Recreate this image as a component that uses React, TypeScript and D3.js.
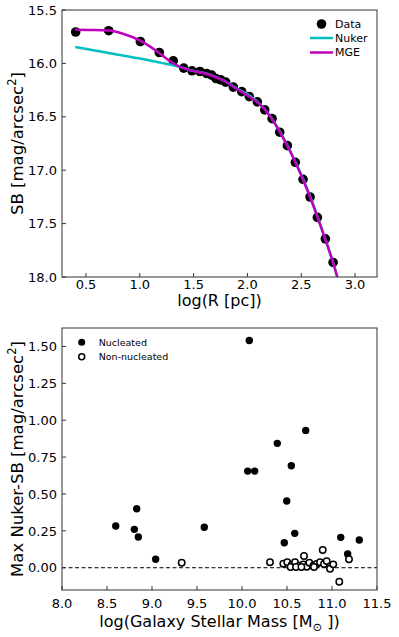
import React, { useEffect, useRef } from 'react';
import * as d3 from 'd3';

// top panel: surface brightness profile
const dataLogR = [0.404, 0.711, 1.005, 1.181, 1.311, 1.408, 1.485, 1.559, 1.622, 1.668, 1.708, 1.752, 1.798, 1.869, 1.947, 2.018, 2.092, 2.161, 2.229, 2.3, 2.371, 2.445, 2.517, 2.582, 2.65, 2.724, 2.796];
const dataSB = [15.706, 15.694, 15.795, 15.898, 15.976, 16.044, 16.069, 16.076, 16.095, 16.11, 16.142, 16.154, 16.175, 16.222, 16.264, 16.311, 16.36, 16.435, 16.517, 16.644, 16.77, 16.926, 17.085, 17.251, 17.442, 17.643, 17.864];

const nukerLogR = [0.4, 0.7, 1.0, 1.2, 1.4, 1.48, 1.6, 1.7, 1.8, 1.9, 2.0, 2.1, 2.2, 2.3, 2.4, 2.5, 2.6, 2.7, 2.8, 2.836];
const nukerSB = [15.847, 15.9, 15.955, 15.995, 16.04, 16.066, 16.09, 16.125, 16.17, 16.235, 16.29, 16.365, 16.475, 16.635, 16.825, 17.04, 17.29, 17.575, 17.875, 18.0];

const mgeLogR = [0.4, 0.55, 0.71, 0.85, 1.0, 1.1, 1.18, 1.28, 1.37, 1.48, 1.6, 1.7, 1.8, 1.9, 2.0, 2.1, 2.2, 2.3, 2.4, 2.5, 2.6, 2.7, 2.8, 2.835];
const mgeSB = [15.685, 15.687, 15.693, 15.725, 15.785, 15.845, 15.903, 15.98, 16.03, 16.068, 16.092, 16.128, 16.172, 16.24, 16.3, 16.37, 16.48, 16.64, 16.83, 17.05, 17.3, 17.58, 17.88, 18.0];

const topXTicks = [0.5, 1.0, 1.5, 2.0, 2.5, 3.0];
const topYTicks = [15.5, 16.0, 16.5, 17.0, 17.5, 18.0];

// bottom panel: max nuker-SB vs stellar mass
const nucMass = [10.081, 10.708, 10.392, 10.548, 10.063, 10.141, 8.597, 8.83, 8.804, 8.848, 9.041, 9.581, 10.497, 10.586, 10.47, 11.097, 11.303, 11.174];
const nucSB = [1.54, 0.931, 0.843, 0.691, 0.655, 0.655, 0.283, 0.4, 0.26, 0.208, 0.057, 0.274, 0.452, 0.233, 0.169, 0.206, 0.188, 0.093];

const nonMass = [9.33, 10.311, 10.459, 10.503, 10.552, 10.589, 10.637, 10.681, 10.689, 10.719, 10.748, 10.792, 10.83, 10.867, 10.897, 10.911, 10.941, 10.978, 11.014, 11.081, 11.189, 10.54, 10.6, 10.66, 10.8];
const nonSB = [0.034, 0.037, 0.027, 0.037, 0.018, 0.037, 0.014, 0.023, 0.079, 0.007, 0.034, 0.014, 0.025, 0.037, 0.12, 0.025, 0.045, -0.007, 0.023, -0.095, 0.057, 0.005, 0.005, 0.005, 0.005];

const botXTicks = [8.0, 8.5, 9.0, 9.5, 10.0, 10.5, 11.0, 11.5];
const botYTicks = [0.0, 0.25, 0.5, 0.75, 1.0, 1.25, 1.5];

const FONT = '"DejaVu Sans", sans-serif';
const AXIS = '#333';

const frame = (svg, x0, x1, y0, y1) => {
  svg
    .append('rect')
    .attr('x', x0)
    .attr('y', y0)
    .attr('width', x1 - x0)
    .attr('height', y1 - y0)
    .attr('fill', 'none')
    .attr('stroke', AXIS)
    .attr('stroke-width', 1);
};

const xTicks = (svg, x, ticks, y1, fmt, labelY) => {
  ticks.forEach((t) => {
    svg.append('line').attr('x1', x(t)).attr('x2', x(t)).attr('y1', y1).attr('y2', y1 - 4).attr('stroke', AXIS);
    svg
      .append('text')
      .attr('x', x(t))
      .attr('y', labelY)
      .attr('text-anchor', 'middle')
      .style('font-family', FONT)
      .style('font-size', '13px')
      .text(fmt(t));
  });
};

const yTicks = (svg, y, ticks, x0, fmt) => {
  ticks.forEach((t) => {
    svg.append('line').attr('x1', x0).attr('x2', x0 + 4).attr('y1', y(t)).attr('y2', y(t)).attr('stroke', AXIS);
    svg
      .append('text')
      .attr('x', x0 - 5)
      .attr('y', y(t))
      .attr('dy', '0.36em')
      .attr('text-anchor', 'end')
      .style('font-family', FONT)
      .style('font-size', '13px')
      .text(fmt(t));
  });
};

const yLabel = (svg, x, y, before, after) => {
  const t = svg
    .append('text')
    .attr('transform', 'translate(' + [x, y] + ')rotate(-90)')
    .attr('text-anchor', 'middle')
    .style('font-family', FONT)
    .style('font-size', '16.5px');
  t.append('tspan').text(before);
  t.append('tspan').attr('dy', -7).style('font-size', '11.5px').text('2');
  t.append('tspan').attr('dy', 7).text(after);
};

const App = () => {
  const ref = useRef(null);

  useEffect(() => {
    if (!ref.current) return;
    const width = 399,
      height = 637;
    d3.select(ref.current).selectAll('*').remove();
    const svg = d3
      .select(ref.current)
      .append('svg')
      .attr('width', width)
      .attr('height', height)
      .style('position', 'absolute')
      .style('left', 0)
      .style('top', 0);

    // ---------- top panel ----------
    const L = 62,
      R = 377;
    const tT = 10,
      tB = 277;
    const x1 = d3.scaleLinear().domain([0.277, 3.204]).range([L, R]);
    const y1 = d3.scaleLinear().domain([15.5, 18.0]).range([tT, tB]);

    svg
      .append('clipPath')
      .attr('id', 'clipTop')
      .append('rect')
      .attr('x', L)
      .attr('y', tT)
      .attr('width', R - L)
      .attr('height', tB - tT);

    const top = svg.append('g').attr('clip-path', 'url(#clipTop)');

    top
      .selectAll('circle.data')
      .data(dataLogR)
      .enter()
      .append('circle')
      .attr('cx', (d) => x1(d))
      .attr('cy', (d, i) => y1(dataSB[i]))
      .attr('r', 4.8)
      .attr('fill', 'black');

    const lineTop = d3
      .line()
      .x((d) => x1(d[0]))
      .y((d) => y1(d[1]))
      .curve(d3.curveMonotoneX);

    top
      .append('path')
      .attr('d', lineTop(nukerLogR.map((v, i) => [v, nukerSB[i]])))
      .attr('fill', 'none')
      .attr('stroke', '#00bfbf')
      .attr('stroke-width', 2.5);
    top
      .append('path')
      .attr('d', lineTop(mgeLogR.map((v, i) => [v, mgeSB[i]])))
      .attr('fill', 'none')
      .attr('stroke', '#bf00bf')
      .attr('stroke-width', 2.5);

    frame(svg, L, R, tT, tB);
    xTicks(svg, x1, topXTicks, tB, d3.format('.1f'), 289);
    yTicks(svg, y1, topYTicks, L, d3.format('.1f'));

    svg
      .append('text')
      .attr('x', (L + R) / 2)
      .attr('y', 306)
      .attr('text-anchor', 'middle')
      .style('font-family', FONT)
      .style('font-size', '16px')
      .text('log(R [pc])');
    yLabel(svg, 23, (tT + tB) / 2, 'SB [mag/arcsec', ']');

    // legend top
    svg.append('circle').attr('cx', 321.5).attr('cy', 24).attr('r', 4.8).attr('fill', 'black');
    svg.append('line').attr('x1', 310).attr('x2', 333).attr('y1', 38).attr('y2', 38).attr('stroke', '#00bfbf').attr('stroke-width', 2.5);
    svg.append('line').attr('x1', 310).attr('x2', 333).attr('y1', 52.5).attr('y2', 52.5).attr('stroke', '#bf00bf').attr('stroke-width', 2.5);
    [
      ['Data', 24],
      ['Nuker', 38],
      ['MGE', 52.5],
    ].forEach(([s, yy]) => {
      svg
        .append('text')
        .attr('x', 335)
        .attr('y', yy)
        .attr('dy', '0.36em')
        .style('font-family', FONT)
        .style('font-size', '11px')
        .text(s);
    });

    // ---------- bottom panel ----------
    const bT = 328,
      bB = 590;
    const x2 = d3.scaleLinear().domain([8.0, 11.5]).range([L, R]);
    const y2 = d3.scaleLinear().domain([-0.151, 1.625]).range([bB, bT]);

    svg
      .append('line')
      .attr('x1', L)
      .attr('x2', R)
      .attr('y1', y2(0))
      .attr('y2', y2(0))
      .attr('stroke', 'black')
      .attr('stroke-width', 1)
      .attr('stroke-dasharray', '4,2.5');

    svg
      .selectAll('circle.nuc')
      .data(nucMass)
      .enter()
      .append('circle')
      .attr('cx', (d) => x2(d))
      .attr('cy', (d, i) => y2(nucSB[i]))
      .attr('r', 3.7)
      .attr('fill', 'black');

    svg
      .selectAll('circle.non')
      .data(nonMass)
      .enter()
      .append('circle')
      .attr('cx', (d) => x2(d))
      .attr('cy', (d, i) => y2(nonSB[i]))
      .attr('r', 3.2)
      .attr('fill', 'white')
      .attr('stroke', 'black')
      .attr('stroke-width', 1.5);

    frame(svg, L, R, bT, bB);
    xTicks(svg, x2, botXTicks, bB, d3.format('.1f'), 608);
    yTicks(svg, y2, botYTicks, L, d3.format('.2f'));

    const xl = svg
      .append('text')
      .attr('x', (L + R) / 2)
      .attr('y', 627)
      .attr('text-anchor', 'middle')
      .style('font-family', FONT)
      .style('font-size', '16px');
    xl.append('tspan').text('log(Galaxy Stellar Mass [M');
    xl.append('tspan').attr('dy', 4).style('font-size', '11.5px').text('⊙');
    xl.append('tspan').attr('dy', -4).text(' ])');
    yLabel(svg, 23, (bT + bB) / 2, 'Max Nuker-SB [mag/arcsec', ']');

    // legend bottom
    svg.append('circle').attr('cx', 81.7).attr('cy', 342.3).attr('r', 3.5).attr('fill', 'black');
    svg
      .append('circle')
      .attr('cx', 81.7)
      .attr('cy', 356.7)
      .attr('r', 3)
      .attr('fill', 'white')
      .attr('stroke', 'black')
      .attr('stroke-width', 1.5);
    [
      ['Nucleated', 342.3],
      ['Non-nucleated', 356.7],
    ].forEach(([s, yy]) => {
      svg
        .append('text')
        .attr('x', 98.7)
        .attr('y', yy)
        .attr('dy', '0.36em')
        .style('font-family', FONT)
        .style('font-size', '9.5px')
        .text(s);
    });
  }, []);

  return <div id="chart" ref={ref} />;
};

export default App;
